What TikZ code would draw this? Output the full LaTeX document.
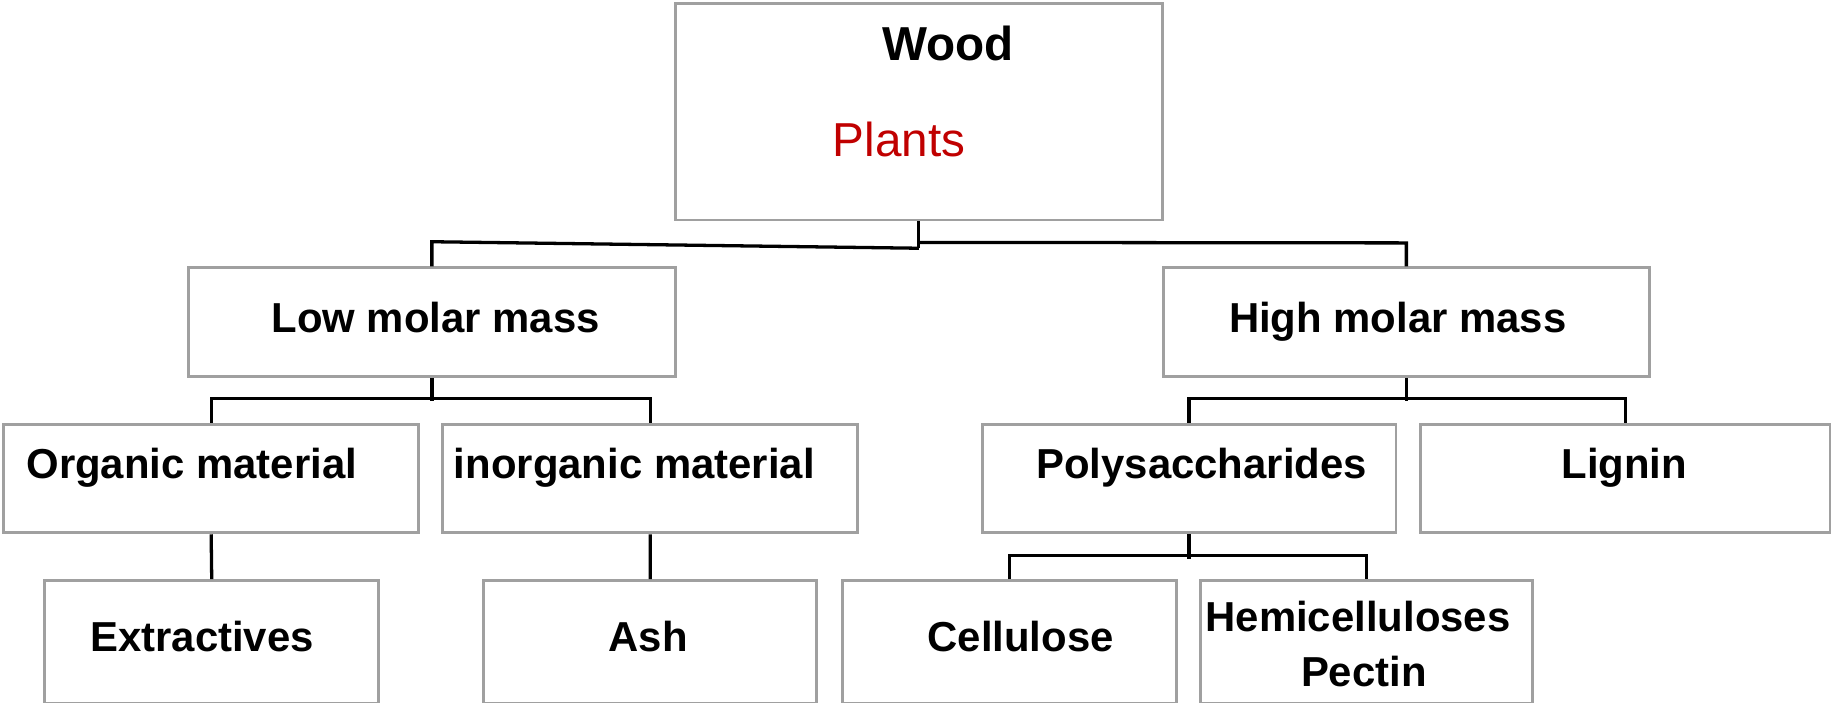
\documentclass[tikz,border=0pt]{standalone}
\usepackage{fontspec}
\setmainfont{Liberation Sans}
\usetikzlibrary{calc}
\definecolor{boxgray}{HTML}{A0A0A0}
\definecolor{plantred}{HTML}{C00000}
\begin{document}
\begin{tikzpicture}[x=0.01cm,y=-0.01cm,
  box/.style={draw=boxgray, line width=0.7pt, rectangle, inner sep=0pt, anchor=north west},
  conn/.style={draw=black, line width=0.8pt},
  lbl/.style={inner sep=0pt, anchor=base, font=\fontsize{10.2}{12.5}\selectfont\bfseries},
]
\useasboundingbox (0,0) rectangle (1568,602);
% boxes
\node[box, minimum width=4.17cm, minimum height=1.85cm] (wood) at (577,2) {};
\node[box, minimum width=4.17cm, minimum height=0.93cm] (low) at (160,228) {};
\node[box, minimum width=4.16cm, minimum height=0.93cm] (high) at (995,228) {};
\node[box, minimum width=3.55cm, minimum height=0.93cm] (org) at (2,362) {};
\node[box, minimum width=3.55cm, minimum height=0.93cm] (inorg) at (378,362) {};
\node[box, minimum width=3.54cm, minimum height=0.93cm] (poly) at (840,362) {};
\node[box, minimum width=3.51cm, minimum height=0.93cm] (lignin) at (1215,362) {};
\node[box, minimum width=2.86cm, minimum height=1.05cm] (extr) at (37,496) {};
\node[box, minimum width=2.85cm, minimum height=1.05cm] (ash) at (413,496) {};
\node[box, minimum width=2.86cm, minimum height=1.05cm] (cell) at (720,496) {};
\node[box, minimum width=2.84cm, minimum height=1.05cm] (hemi) at (1027,496) {};
% texts
\node[lbl, font=\fontsize{11.6}{14}\selectfont\bfseries] (tWood) at (812,52) {Wood};
\node[lbl, font=\fontsize{11.6}{14}\selectfont, text=plantred] (tPlants) at (770,134) {Plants};
\node[lbl] (tLow) at (373,285) {Low molar mass};
\node[lbl] (tHigh) at (1197,285) {High molar mass};
\node[lbl, anchor=base west] (tOrg) at (22,410) {Organic material};
\node[lbl, anchor=base west] (tInorg) at (388,410) {inorganic material};
\node[lbl] (tPoly) at (1029,410) {Polysaccharides};
\node[lbl] (tLignin) at (1391,410) {Lignin};
\node[lbl] (tExtr) at (173,558) {Extractives};
\node[lbl] (tAsh) at (555,558) {Ash};
\node[lbl] (tCell) at (874,558) {Cellulose};
\node[lbl] (tHemi) at (1163,541) {Hemicelluloses};
\node[lbl] (tPectin) at (1168,588) {Pectin};
% connectors
\draw[conn] (wood.south) -- ++(0,23) coordinate (wj);
\draw[conn] (wj) -- ($(low.north)+(0,-21)$) -- (low.north);
\draw[conn] ($(wj)+(0,-5)$) -- ($(high.north)+(0,-20)$) -- (high.north);
\draw[conn] (low.south) -- ++(0,20);
\draw[conn] (org.north) -- ++(0,-21) -| (inorg.north);
\draw[conn] (high.south) -- ++(0,20);
\draw[conn] (poly.north) -- ++(0,-21) -| (lignin.north);
\draw[conn] (org.south) -- (extr.north);
\draw[conn] (inorg.south) -- (ash.north);
\draw[conn] (poly.south) -- ++(0,21);
\draw[conn] (cell.north) -- ++(0,-20) -| (hemi.north);
\end{tikzpicture}
\end{document}
